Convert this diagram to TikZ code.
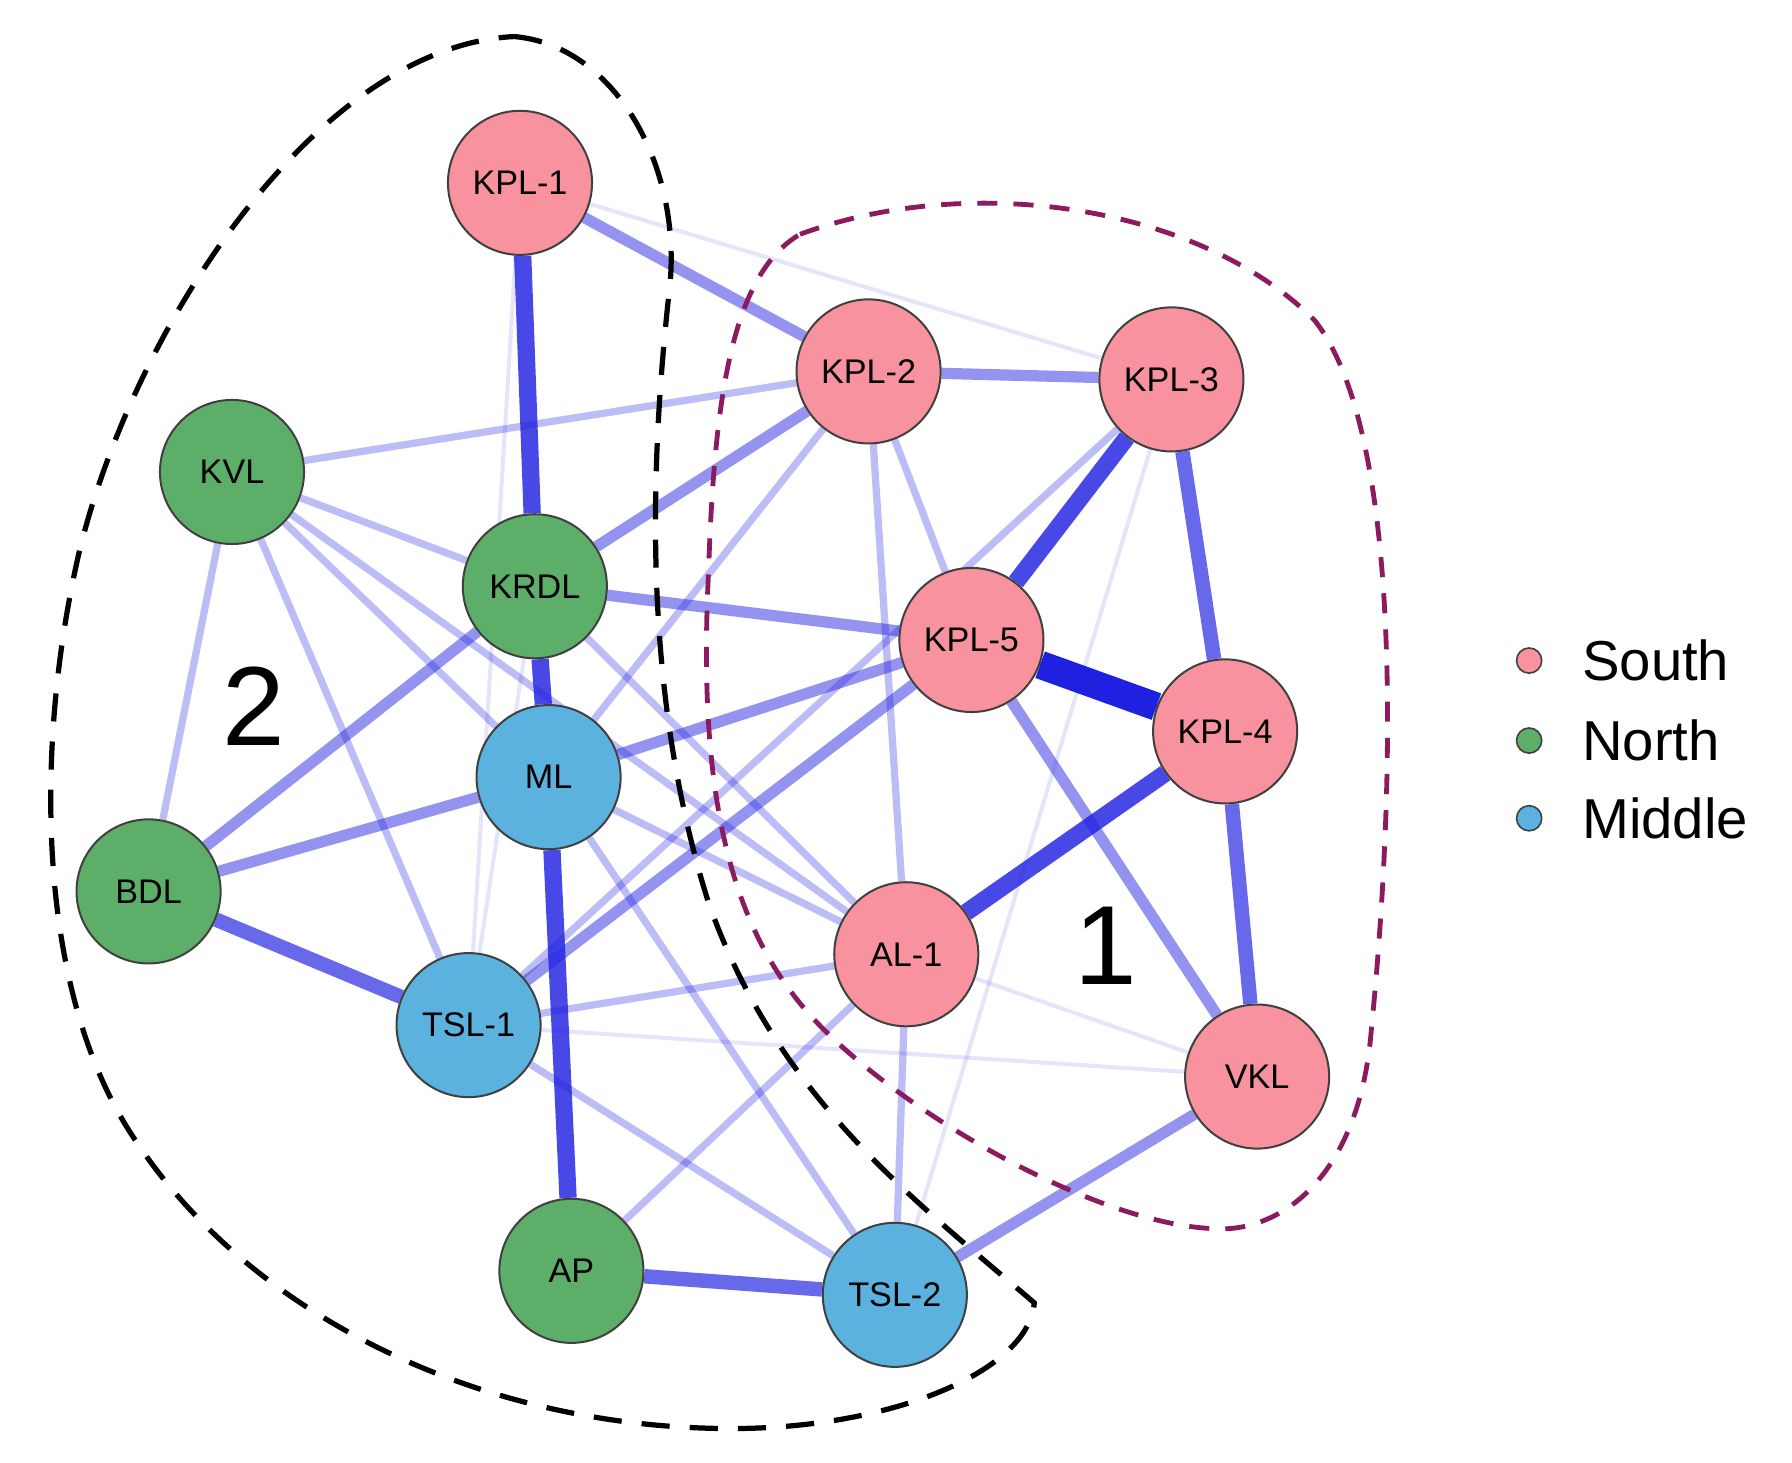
\documentclass[tikz,border=0pt]{standalone}
\usepackage{fontspec}
\setmainfont{Liberation Sans}
\pgfdeclarelayer{bg}
\pgfsetlayers{bg,main}
\begin{document}
\definecolor{pk}{HTML}{F7929E}
\definecolor{gr}{HTML}{5DAE68}
\definecolor{bl}{HTML}{5BB2DF}
\definecolor{ed}{HTML}{2020E0}
\definecolor{pu}{HTML}{8B1A5E}
\begin{tikzpicture}[x=0.01cm,y=-0.01cm,
  nd/.style={circle,draw=black!75,line width=0.5pt,minimum size=1.26cm,inner sep=0pt,font=\fontsize{8.5}{9}\selectfont},
  S/.style={nd,fill=pk},N/.style={nd,fill=gr},M/.style={nd,fill=bl},
  e1/.style={ed,line width=1pt,draw opacity=0.12},
  e2/.style={ed,line width=1.8pt,draw opacity=0.3},
  e3/.style={ed,line width=2.8pt,draw opacity=0.48},
  e4/.style={ed,line width=3.6pt,draw opacity=0.68},
  e5/.style={ed,line width=4.3pt,draw opacity=0.82},
  e6/.style={ed,line width=7pt,draw opacity=1},
  lg/.style={circle,draw=black!75,minimum size=0.22cm,inner sep=0pt},
  lt/.style={anchor=west,font=\fontsize{14}{15}\selectfont}]
\useasboundingbox (0,0) rectangle (1568,1280);
\node[S] (k1) at (455,160) {KPL-1};
\node[S] (k2) at (760,325) {KPL-2};
\node[S] (k3) at (1025,332) {KPL-3};
\node[N] (kvl) at (203,413) {KVL};
\node[N] (krdl) at (468,513) {KRDL};
\node[S] (k5) at (850,560) {KPL-5};
\node[S] (k4) at (1072,640) {KPL-4};
\node[M] (ml) at (480,680) {ML};
\node[N] (bdl) at (130,780) {BDL};
\node[S] (al) at (793,835) {AL-1};
\node[M] (t1) at (410,897) {TSL-1};
\node[S] (vkl) at (1100,942) {VKL};
\node[N] (ap) at (500,1112) {AP};
\node[M] (t2) at (783,1133) {TSL-2};
\begin{pgfonlayer}{bg}
\foreach \a/\b/\s in {k1/k3/e1,k1/t1/e1,t1/krdl/e1,k3/t2/e1,al/vkl/e1,t1/vkl/e1,kvl/k2/e2,kvl/bdl/e2,kvl/t1/e2,kvl/al/e2,kvl/ml/e2,kvl/krdl/e2,krdl/al/e2,ml/al/e2,t1/k3/e2,t1/al/e2,ap/al/e2,al/t2/e2,k2/ml/e2,k2/al/e2,k2/k5/e2,k5/vkl/e3,t1/t2/e2,ml/t2/e2,k2/krdl/e3,t1/k5/e3,ml/k5/e3,krdl/k5/e3,bdl/krdl/e3,bdl/ml/e3,k1/k2/e3,k2/k3/e3,vkl/t2/e3,k3/k4/e4,k4/vkl/e4,k4/al/e5,bdl/t1/e4,ap/t2/e4,krdl/ml/e5,k1/krdl/e5,ml/ap/e5,k3/k5/e5,k5/k4/e6}
  \draw[\s] (\a) -- (\b);
\end{pgfonlayer}
\draw[dashed,line width=1.3pt,dash pattern=on 7pt off 5pt] (450,32) .. controls (540,40) and (600,150) .. (585,260)
  .. controls (570,400) and (560,600) .. (620,790) .. controls (680,960) and (800,1050) .. (905,1140)
  .. controls (900,1200) and (780,1250) .. (640,1250) .. controls (420,1250) and (220,1150) .. (120,1000)
  .. controls (30,870) and (30,650) .. (70,480) .. controls (120,280) and (280,40) .. (450,32);
\draw[pu,line width=1.2pt,dash pattern=on 5pt off 4pt] (700,205) .. controls (850,150) and (1050,180) .. (1150,280)
  .. controls (1230,380) and (1220,700) .. (1200,900) .. controls (1190,1030) and (1120,1080) .. (1060,1075)
  .. controls (960,1070) and (800,980) .. (720,900) .. controls (640,820) and (610,700) .. (620,500)
  .. controls (625,350) and (640,240) .. (700,205);
\node[font=\fontsize{28}{30}\selectfont] (n2) at (222,618) {2};
\node[font=\fontsize{28}{30}\selectfont] (n1) at (968,828) {1};
\node[lg,fill=pk] (l1) at (1338,578) {};
\node[lg,fill=gr] (l2) at (1338,648) {};
\node[lg,fill=bl] (l3) at (1338,716) {};
\node[lt] (t1l) at (1372,578) {South};
\node[lt] (t2l) at (1372,648) {North};
\node[lt] (t3l) at (1372,716) {Middle};
\end{tikzpicture}
\end{document}
